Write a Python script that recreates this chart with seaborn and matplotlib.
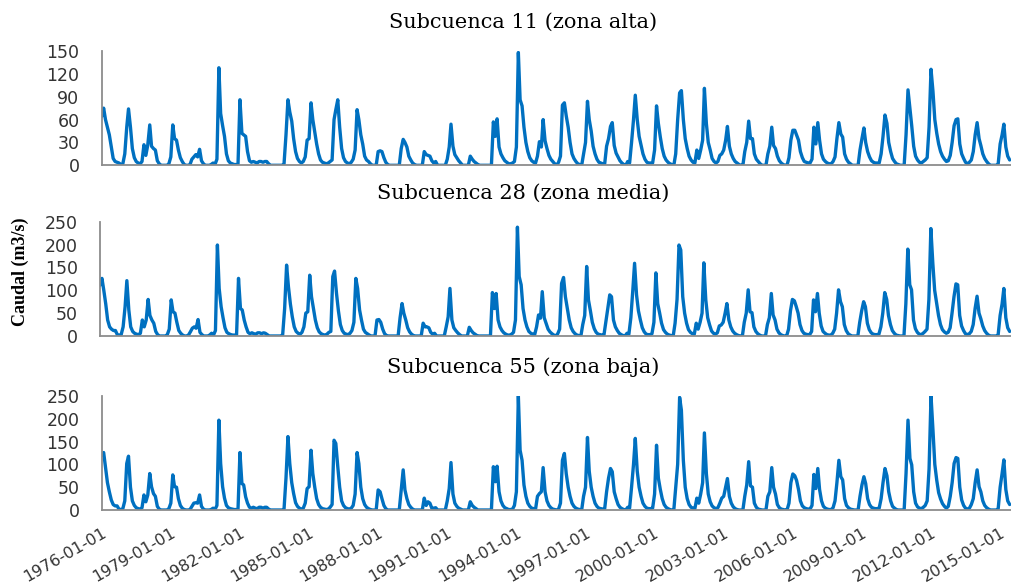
import matplotlib
matplotlib.use("Agg")
import matplotlib.pyplot as plt
import numpy as np
import pandas as pd
import seaborn as sns

# Monthly discharge (m3/s), Jan 1976 - Jun 2015, one row per year
sub11 = [
    64, 75, 60, 50, 40, 24, 9, 5, 4, 3, 1, 2,          # 1976
    15, 50, 74, 50, 22, 10, 5, 3, 2, 5, 27, 13,        # 1977
    27, 53, 25, 22, 20, 6, 2, 0, 0, 0, 0, 2,           # 1978
    11, 53, 35, 33, 20, 10, 5, 1, 0, 0, 1, 8,          # 1979
    11, 14, 11, 21, 6, 2, 0, 0, 0, 1, 3, 1,            # 1980
    8, 128, 68, 52, 38, 15, 6, 3, 2, 1, 1, 1,          # 1981
    86, 42, 40, 38, 18, 6, 4, 5, 4, 3, 5, 5,           # 1982
    4, 5, 5, 2, 0, 0, 0, 0, 0, 0, 0, 2,                # 1983
    40, 86, 70, 58, 35, 18, 9, 5, 3, 5, 11, 33,        # 1984
    35, 82, 60, 44, 28, 15, 7, 4, 3, 2, 3, 5,          # 1985
    7, 60, 73, 86, 50, 22, 10, 5, 3, 2, 4, 8,          # 1986
    20, 73, 60, 40, 28, 12, 7, 5, 2, 0, 0, 0,          # 1987
    18, 19, 18, 10, 4, 1, 0, 0, 0, 0, 0, 0,            # 1988
    22, 34, 30, 24, 12, 7, 3, 1, 0, 0, 0, 0,           # 1989
    18, 14, 13, 12, 6, 3, 5, 0, 0, 0, 0, 0,            # 1990
    8, 24, 54, 25, 14, 10, 6, 3, 0, 0, 0, 0,           # 1991
    12, 8, 5, 3, 1, 0, 0, 0, 0, 0, 0, 0,               # 1992
    57, 38, 61, 24, 15, 10, 6, 4, 2, 2, 3, 5,          # 1993
    24, 148, 86, 78, 50, 30, 18, 10, 6, 4, 3, 12,      # 1994
    31, 24, 60, 32, 22, 13, 8, 5, 2, 0, 4, 12,         # 1995
    79, 82, 65, 50, 30, 15, 9, 5, 2, 1, 0, 15,         # 1996
    30, 84, 60, 45, 25, 15, 8, 4, 3, 2, 2, 25,         # 1997
    35, 51, 56, 26, 16, 11, 6, 3, 1, 0, 5, 3,          # 1998
    30, 60, 92, 60, 38, 26, 15, 8, 4, 3, 3, 3,         # 1999
    20, 78, 55, 37, 22, 12, 7, 4, 2, 1, 0, 15,         # 2000
    60, 95, 98, 60, 35, 22, 12, 7, 4, 3, 20, 9,        # 2001
    20, 33, 101, 55, 30, 20, 9, 5, 3, 5, 13, 15,       # 2002
    20, 33, 51, 25, 15, 9, 5, 3, 1, 0, 0, 18,          # 2003
    30, 58, 35, 35, 15, 8, 5, 2, 0, 0, 0, 15,          # 2004
    25, 50, 26, 22, 12, 6, 3, 1, 0, 0, 10, 33,         # 2005
    46, 46, 40, 33, 18, 10, 5, 4, 3, 3, 8, 50,         # 2006
    28, 56, 33, 15, 8, 5, 3, 2, 2, 5, 11, 35,          # 2007
    56, 41, 37, 15, 8, 4, 2, 0, 0, 0, 0, 20,           # 2008
    35, 49, 30, 18, 11, 6, 4, 3, 3, 3, 15, 38,         # 2009
    66, 55, 30, 18, 9, 5, 2, 1, 0, 0, 0, 40,           # 2010
    99, 75, 52, 25, 12, 7, 4, 3, 5, 7, 10, 50,         # 2011
    126, 97, 60, 42, 28, 18, 12, 8, 5, 6, 13, 30,      # 2012
    52, 60, 61, 28, 15, 9, 4, 2, 4, 7, 18, 40,         # 2013
    56, 35, 26, 15, 9, 5, 2, 0, 0, 0, 0, 2,            # 2014
    28, 40, 54, 24, 12, 7,                             # 2015
]

sub28 = [
    111, 126, 100, 70, 35, 20, 15, 12, 12, 3, 2, 3,    # 1976
    20, 64, 121, 57, 20, 10, 6, 4, 3, 6, 35, 20,       # 1977
    35, 80, 45, 35, 28, 10, 3, 0, 0, 0, 0, 3,          # 1978
    15, 79, 53, 50, 30, 12, 6, 2, 0, 0, 2, 9,          # 1979
    17, 20, 17, 36, 8, 3, 0, 0, 0, 2, 6, 2,            # 1980
    12, 199, 104, 64, 40, 18, 8, 5, 3, 2, 2, 2,        # 1981
    126, 60, 57, 35, 20, 8, 5, 7, 5, 4, 7, 7,          # 1982
    5, 7, 6, 3, 0, 0, 0, 0, 0, 0, 0, 3,                # 1983
    60, 155, 108, 70, 42, 20, 10, 6, 4, 8, 20, 50,     # 1984
    53, 133, 86, 60, 35, 18, 9, 5, 3, 2, 4, 8,         # 1985
    10, 130, 142, 93, 55, 25, 12, 6, 4, 3, 6, 12,      # 1986
    30, 126, 104, 57, 35, 15, 8, 5, 2, 0, 0, 0,        # 1987
    35, 36, 30, 15, 5, 1, 0, 0, 0, 0, 0, 0,            # 1988
    40, 71, 50, 35, 18, 9, 4, 1, 0, 0, 0, 0,           # 1989
    28, 20, 20, 18, 8, 4, 6, 0, 0, 0, 0, 0,            # 1990
    20, 42, 104, 35, 18, 12, 7, 3, 0, 0, 0, 0,         # 1991
    19, 12, 7, 4, 1, 0, 0, 0, 0, 0, 0, 0,              # 1992
    95, 60, 93, 35, 20, 12, 7, 4, 2, 2, 4, 8,          # 1993
    35, 238, 130, 112, 60, 35, 20, 10, 6, 4, 3, 20,    # 1994
    46, 39, 97, 40, 28, 15, 9, 5, 2, 0, 5, 15,         # 1995
    115, 128, 86, 60, 35, 18, 10, 5, 2, 1, 0, 25,      # 1996
    45, 152, 79, 55, 30, 16, 8, 4, 3, 2, 2, 30,        # 1997
    60, 90, 86, 35, 20, 12, 6, 3, 1, 0, 6, 4,          # 1998
    40, 100, 159, 90, 55, 35, 18, 9, 4, 3, 3, 5,       # 1999
    30, 138, 71, 50, 28, 14, 8, 4, 2, 1, 0, 28,        # 2000
    80, 199, 188, 86, 50, 28, 14, 8, 5, 4, 28, 15,     # 2001
    30, 50, 160, 79, 40, 24, 11, 6, 4, 7, 22, 24,      # 2002
    30, 50, 71, 35, 20, 11, 6, 3, 1, 0, 0, 30,         # 2003
    50, 101, 53, 51, 20, 10, 5, 2, 0, 0, 0, 25,        # 2004
    40, 93, 46, 35, 15, 7, 3, 1, 0, 0, 15, 55,         # 2005
    80, 77, 65, 50, 25, 12, 6, 4, 3, 3, 10, 79,        # 2006
    53, 93, 50, 22, 10, 6, 3, 2, 2, 6, 15, 50,         # 2007
    101, 75, 64, 25, 12, 5, 2, 0, 0, 0, 0, 30,         # 2008
    55, 75, 64, 28, 14, 7, 4, 3, 3, 4, 20, 50,         # 2009
    95, 80, 45, 25, 12, 6, 2, 1, 0, 0, 0, 70,          # 2010
    190, 112, 101, 35, 16, 8, 4, 3, 6, 10, 15, 80,     # 2011
    235, 159, 100, 72, 45, 25, 14, 9, 6, 8, 18, 50,    # 2012
    86, 114, 112, 45, 22, 12, 5, 3, 5, 10, 25, 60,     # 2013
    87, 50, 38, 22, 12, 6, 2, 0, 0, 0, 0, 3,           # 2014
    45, 70, 104, 40, 18, 10,                           # 2015
]

sub55 = [
    120, 126, 95, 60, 40, 22, 12, 9, 9, 2, 1, 3,       # 1976
    20, 102, 118, 50, 20, 10, 5, 3, 2, 5, 33, 18,      # 1977
    33, 80, 51, 36, 30, 8, 2, 0, 0, 0, 0, 3,           # 1978
    15, 77, 51, 50, 25, 10, 4, 1, 0, 0, 1, 8,          # 1979
    15, 16, 15, 33, 8, 2, 0, 0, 0, 1, 4, 1,            # 1980
    10, 197, 102, 51, 26, 10, 5, 3, 2, 1, 1, 1,        # 1981
    126, 58, 55, 29, 15, 6, 4, 6, 4, 3, 6, 6,          # 1982
    4, 6, 6, 2, 0, 0, 0, 0, 0, 0, 0, 2,                # 1983
    70, 161, 102, 60, 36, 16, 8, 4, 2, 4, 15, 47,      # 1984
    51, 131, 80, 50, 25, 12, 6, 3, 2, 1, 2, 6,         # 1985
    12, 153, 146, 95, 50, 20, 10, 5, 3, 2, 4, 10,      # 1986
    35, 126, 102, 50, 25, 12, 6, 3, 1, 0, 0, 0,        # 1987
    44, 40, 25, 10, 3, 0, 0, 0, 0, 0, 0, 0,            # 1988
    44, 88, 44, 25, 12, 6, 2, 0, 0, 0, 0, 0,           # 1989
    26, 10, 18, 15, 4, 4, 5, 0, 0, 0, 0, 0,            # 1990
    20, 47, 104, 35, 15, 8, 4, 2, 0, 0, 0, 0,          # 1991
    18, 10, 6, 3, 0, 0, 0, 0, 0, 0, 0, 0,              # 1992
    95, 62, 96, 40, 20, 10, 5, 3, 1, 1, 2, 10,         # 1993
    40, 250, 131, 109, 55, 30, 15, 8, 4, 3, 2, 30,     # 1994
    36, 40, 93, 40, 20, 10, 5, 2, 1, 0, 2, 15,         # 1995
    109, 124, 80, 50, 30, 15, 8, 4, 2, 1, 0, 30,       # 1996
    50, 159, 85, 50, 30, 15, 8, 4, 3, 2, 3, 40,        # 1997
    70, 91, 84, 40, 25, 12, 6, 3, 1, 0, 6, 4,          # 1998
    50, 100, 157, 85, 50, 30, 15, 8, 4, 3, 3, 4,       # 1999
    35, 142, 70, 45, 25, 12, 6, 3, 1, 0, 0, 50,        # 2000
    100, 247, 219, 109, 50, 25, 12, 6, 4, 3, 26, 15,   # 2001
    35, 60, 169, 80, 35, 18, 9, 5, 3, 5, 15, 26,       # 2002
    30, 50, 69, 30, 15, 7, 3, 1, 0, 0, 0, 30,          # 2003
    55, 106, 53, 50, 15, 6, 2, 1, 0, 0, 0, 30,         # 2004
    40, 93, 50, 35, 12, 5, 2, 1, 0, 0, 15, 60,         # 2005
    79, 75, 65, 45, 20, 9, 5, 3, 2, 2, 10, 78,         # 2006
    47, 91, 45, 20, 8, 4, 2, 1, 1, 5, 20, 60,          # 2007
    109, 73, 66, 25, 10, 5, 2, 1, 0, 0, 0, 30,         # 2008
    55, 73, 58, 25, 12, 6, 4, 3, 3, 4, 25, 60,         # 2009
    91, 75, 40, 20, 8, 4, 1, 0, 0, 0, 0, 80,           # 2010
    197, 113, 99, 40, 15, 7, 4, 3, 6, 10, 20, 90,      # 2011
    250, 175, 100, 65, 38, 24, 14, 8, 4, 8, 30, 60,    # 2012
    102, 115, 113, 50, 22, 10, 4, 2, 4, 12, 25, 60,    # 2013
    88, 51, 40, 20, 10, 5, 2, 0, 0, 0, 0, 3,           # 2014
    50, 80, 110, 45, 20, 12,                           # 2015
]

titles = ["Subcuenca 11 (zona alta)", "Subcuenca 28 (zona media)", "Subcuenca 55 (zona baja)"]
y_ticks = [[0, 30, 60, 90, 120, 150], [0, 50, 100, 150, 200, 250], [0, 50, 100, 150, 200, 250]]
tick_years = list(range(1976, 2016, 3))
tick_labels = [f"{y}-01-01" for y in tick_years]
ylabel_text = "Caudal (m3/s)"

n = len(sub11)
assert n == len(sub28) == len(sub55), (len(sub11), len(sub28), len(sub55))
fechas = pd.date_range("1976-01-01", periods=n, freq="MS")

sns.set_theme(style="white")
plt.rcParams["font.family"] = ["DejaVu Sans"]

LINE = "#0070C0"
AXC = "#8C8C8C"

fig = plt.figure(figsize=(10.12, 5.85), dpi=100)
W, H = 1012.0, 585.0
# (left px, top px, bottom px)
boxes = [(101.7, 51.0, 165.3), (100.0, 221.7, 336.0), (101.7, 396.0, 510.0)]
title_y = [22, 193, 367]
series = [sub11, sub28, sub55]

x0 = pd.Timestamp("1976-01-01")
x1 = pd.Timestamp("2015-07-08")

for i, (vals, (lpx, tpx, bpx)) in enumerate(zip(series, boxes)):
    ax = fig.add_axes([lpx / W, 1 - bpx / H, (W - lpx) / W, (bpx - tpx) / H])
    df = pd.DataFrame({"fecha": fechas, "caudal": vals})
    sns.lineplot(data=df, x="fecha", y="caudal", ax=ax, color=LINE,
                 linewidth=2.4, legend=False)
    ax.set_xlim(x0, x1)
    yt = y_ticks[i]
    ax.set_ylim(0, yt[-1])
    ax.set_yticks(yt)
    ax.set_yticklabels([str(v) for v in yt], fontsize=12.5, color="#333333")
    ax.set_xticks([pd.Timestamp(f"{y}-01-01") for y in tick_years])
    if i == 2:
        ax.set_xticklabels(tick_labels, rotation=30, ha="right", va="top",
                           rotation_mode="anchor", fontsize=11.5, color="#333333")
    else:
        ax.set_xticklabels([])
    ax.set_xlabel("")
    ax.set_ylabel("")
    for s in ["top", "right"]:
        ax.spines[s].set_visible(False)
    for s in ["left", "bottom"]:
        ax.spines[s].set_color(AXC)
        ax.spines[s].set_linewidth(1.3)
    ax.tick_params(axis="x", direction="out", length=5, width=1.2, color=AXC, pad=6)
    ax.tick_params(axis="y", length=0, pad=16)
    ax.grid(False)
    ax.patch.set_alpha(0)
    fig.text(523 / W, 1 - title_y[i] / H, titles[i], ha="center", va="center",
             fontsize=15, family="DejaVu Serif", color="black")

fig.text(20 / W, 1 - 272 / H, ylabel_text, rotation=90, ha="center", va="center",
         fontsize=13, fontweight="bold", family="Liberation Serif", color="black")

fig.savefig("out.png", dpi=100)
